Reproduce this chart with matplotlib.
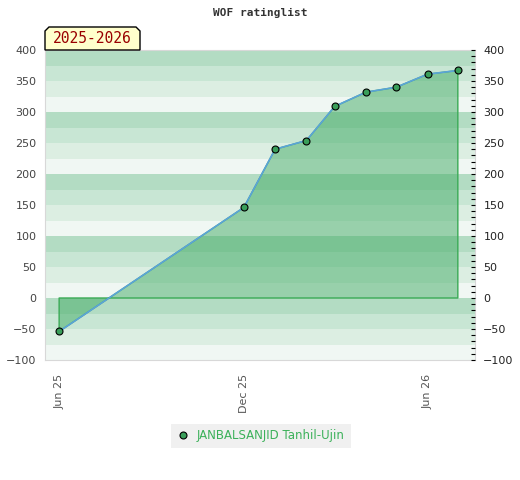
import matplotlib
matplotlib.use('Agg')
import matplotlib.pyplot as plt
import matplotlib.dates as mdates
from matplotlib.patches import Polygon
from matplotlib.ticker import MultipleLocator
import numpy as np
import datetime as dt

# rating list dates and rating changes
dates = ['2025-06-01', '2025-12-01', '2026-01-01', '2026-02-01', '2026-03-01',
         '2026-04-01', '2026-05-01', '2026-06-01', '2026-07-01']
rating = [-54, 146, 240, 254, 309, 332, 340, 361, 367]
player = 'JANBALSANJID Tanhil-Ujin'
season = '2025-2026'
xticks = ['2025-06-01', '2025-12-01', '2026-06-01']

d = [dt.datetime.strptime(s, '%Y-%m-%d') for s in dates]
x = mdates.date2num(d)

fig = plt.figure(figsize=(5.2, 4.8), dpi=100)
ax = fig.add_axes([45/520, 120/480, 430/520, 310/480])

ymin, ymax = -100, 400
# striped background, 4 bands per 100
band_cols = ['#f0f7f3', '#dceee2', '#c8e6d4', '#b3dcc3']
for i, y0 in enumerate(range(ymin, ymax, 25)):
    ax.axhspan(y0, y0 + 25, color=band_cols[i % 4], lw=0, zorder=0)

# filled area between line and zero
px = np.concatenate([x, [x[-1], x[0]]])
py = np.concatenate([rating, [0, 0]])
ax.fill(px, py, facecolor='#42ab65', alpha=0.5, edgecolor='none', zorder=1)
ax.plot(np.append(px, px[0]), np.append(py, py[0]), color='#3aaa55', lw=1, zorder=2)
ax.plot(x, rating, color='#5ba3d9', lw=1.2, zorder=3)
ax.plot(x, rating, 'o', ms=5, mfc='#3a9e5a', mec='black', mew=0.8, zorder=4, label=player)

ax.set_xlim(mdates.date2num(dt.datetime(2025, 5, 18)), mdates.date2num(dt.datetime(2026, 7, 18)))
ax.set_ylim(ymin, ymax)
ax.set_xticks(mdates.date2num([dt.datetime.strptime(s, '%Y-%m-%d') for s in xticks]))
ax.xaxis.set_major_formatter(mdates.DateFormatter('%b %y'))
ax.tick_params(axis='x', length=0, labelrotation=90, labelsize=8, labelcolor='#555555', pad=10)
ax.yaxis.set_major_locator(MultipleLocator(50))
ax.tick_params(axis='y', length=0, labelsize=8, labelcolor='#444444', pad=6)
for s in ax.spines.values():
    s.set_color('#d8d8d8')

# right axis with small ticks
ax2 = ax.twinx()
ax2.set_ylim(ymin, ymax)
ax2.yaxis.set_major_locator(MultipleLocator(50))
ax2.yaxis.set_minor_locator(MultipleLocator(10))
ax2.tick_params(axis='y', which='both', direction='in', length=3, width=0.8,
                color='black', labelsize=8, labelcolor='#222222', pad=6)
for s in ax2.spines.values():
    s.set_visible(False)

fig.text(0.5, 1 - 13/480, 'WOF ratinglist', ha='center', va='center',
         family='DejaVu Sans Mono', fontweight='bold', fontsize=8, color='#333333')

# season label box
bw, bh, c = 95/430, 23/310, 4/430
cy = 4/310
box = Polygon([(0, 1), (0, 1 + bh - cy), (c, 1 + bh), (bw - c, 1 + bh),
               (bw, 1 + bh - cy), (bw, 1)], closed=True, transform=ax.transAxes,
              facecolor='#ffffcc', edgecolor='black', lw=1, clip_on=False, zorder=10)
ax.add_patch(box)
ax.text(bw/2, 1 + bh/2, season, transform=ax.transAxes, ha='center', va='center',
        family='DejaVu Sans Mono', fontsize=10.5, color='#990000', zorder=11)

leg = fig.legend(loc='center', bbox_to_anchor=(261/520, 1 - 436/480), fontsize=8.5,
                 frameon=True, fancybox=False, handlelength=1.0, handletextpad=0.7,
                 borderpad=0.5, borderaxespad=0)
leg.get_frame().set_facecolor('#f0f0f0')
leg.get_frame().set_edgecolor('none')
leg.get_frame().set_alpha(1)
for t in leg.get_texts():
    t.set_color('#3cb15a')

fig.savefig('out.png', dpi=100)
